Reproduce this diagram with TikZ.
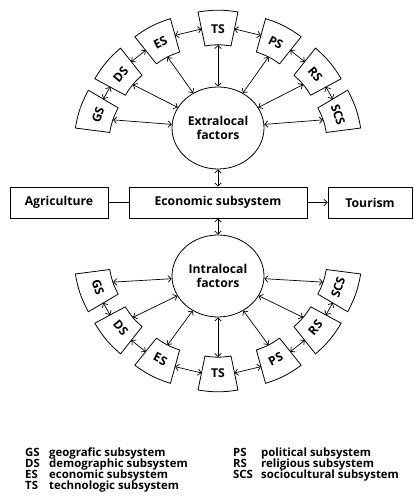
\documentclass[tikz,border=0pt]{standalone}
\usepackage{fontspec}
\setmainfont[Ligatures=NoCommon]{Open Sans}
\usetikzlibrary{arrows.meta,shapes.geometric,calc}

% ring radius of the subsystem sectors
\newcommand\ringR{127}

% one sector: #1 name, #2 ring centre, #3 angle, #4 label rotation, #5 label
\newcommand\subsector[5]{%
  \begin{scope}[shift={($(#2)+(#3:\ringR)$)}, rotate=#3-90]
    \draw[secline] (-13,-17) -- (-20,17) to[bend left=9] (20,17)
      -- (13,-17) to[bend right=9] cycle;
    \coordinate (#1-a) at (-16.5,0);
    \coordinate (#1-b) at (16.5,0);
    \coordinate (#1-in) at (0,-16);
  \end{scope}
  \node[seclabel, rotate=#4] (#1) at ($(#2)+(#3:\ringR)$) {#5};
}

\tikzset{
  x=1pt, y=1pt,
  every node/.style={font=\fontsize{12.2}{14}\selectfont\bfseries},
  secline/.style={line width=0.8pt, line join=round},
  seclabel/.style={inner sep=0pt},
  box/.style={draw, line width=0.8pt, minimum height=31pt, inner sep=0pt},
  factor/.style={draw, ellipse, line width=0.8pt, minimum width=92pt,
    minimum height=82pt, inner sep=0pt, align=center},
  link/.style={line width=0.7pt},
  dar/.style={link, {Straight Barb[length=3.2pt,width=6.5pt]}-{Straight Barb[length=3.2pt,width=6.5pt]}},
  sar/.style={link, -{Straight Barb[length=3.2pt,width=6.5pt]}},
  legab/.style={anchor=base west, inner sep=0pt,
    font=\fontsize{11.4}{13}\selectfont\bfseries},
}

\begin{document}
\begin{tikzpicture}
\useasboundingbox (0,0) rectangle (413,502);

% ring centres
\coordinate (uc) at (218,346);
\coordinate (lc) at (218,256);

% central row
\node[box, minimum width=178pt] (econ) at (218,299.5) {Economic subsystem};
\node[box, minimum width=98pt] (agri) at (59,299.5) {Agriculture};
\node[box, minimum width=84pt] (tour) at (370,299.5) {Tourism};
\draw[link] (agri) -- (econ);
\draw[sar] (econ) -- (tour);

% factor circles
\node[factor] (ext) at (218,374) {Extralocal\\factors};
\node[factor] (intl) at (218,226) {Intralocal\\factors};
\draw[dar] (ext) -- (econ);
\draw[dar] (econ) -- (intl);

% upper ring of subsystems
\subsector{uGS}{uc}{161}{71}{GS}
\subsector{uDS}{uc}{140}{50}{DS}
\subsector{uES}{uc}{117}{27}{ES}
\subsector{uTS}{uc}{90}{0}{TS}
\subsector{uPS}{uc}{63}{-27}{PS}
\subsector{uRS}{uc}{40}{-50}{RS}
\subsector{uSCS}{uc}{19}{-71}{SCS}

\foreach \s in {uGS,uDS,uES,uTS,uPS,uRS,uSCS}
  \draw[dar] (\s-in) -- (ext);
\draw[dar] (uGS-b) -- (uDS-a);
\draw[dar] (uDS-b) -- (uES-a);
\draw[dar] (uES-b) -- (uTS-a);
\draw[dar] (uTS-b) -- (uPS-a);
\draw[dar] (uPS-b) -- (uRS-a);
\draw[dar] (uRS-b) -- (uSCS-a);

% lower ring of subsystems
\subsector{lGS}{lc}{-161}{-71}{GS}
\subsector{lDS}{lc}{-140}{-50}{DS}
\subsector{lES}{lc}{-117}{-27}{ES}
\subsector{lTS}{lc}{-90}{0}{TS}
\subsector{lPS}{lc}{-63}{27}{PS}
\subsector{lRS}{lc}{-40}{50}{RS}
\subsector{lSCS}{lc}{-19}{71}{SCS}

\foreach \s in {lGS,lDS,lES,lTS,lPS,lRS,lSCS}
  \draw[dar] (\s-in) -- (intl);
\draw[dar] (lGS-a) -- (lDS-b);
\draw[dar] (lDS-a) -- (lES-b);
\draw[dar] (lES-a) -- (lTS-b);
\draw[dar] (lTS-a) -- (lPS-b);
\draw[dar] (lPS-a) -- (lRS-b);
\draw[dar] (lRS-a) -- (lSCS-b);

% legend
\node[legab] (k1) at (25,45.5) {GS};
\node[legab] (t1) at (49,45.5) {geografic subsystem};
\node[legab] (k2) at (25,34.5) {DS};
\node[legab] (t2) at (49,34.5) {demographic subsystem};
\node[legab] (k3) at (25,23.5) {ES};
\node[legab] (t3) at (49,23.5) {economic subsystem};
\node[legab] (k4) at (25,12.5) {TS};
\node[legab] (t4) at (49,12.5) {technologic subsystem};
\node[legab] (k5) at (233,45.5) {PS};
\node[legab] (t5) at (261,45.5) {political subsystem};
\node[legab] (k6) at (233,34.5) {RS};
\node[legab] (t6) at (261,34.5) {religious subsystem};
\node[legab] (k7) at (233,23.5) {SCS};
\node[legab] (t7) at (261,23.5) {sociocultural subsystem};
\end{tikzpicture}
\end{document}
